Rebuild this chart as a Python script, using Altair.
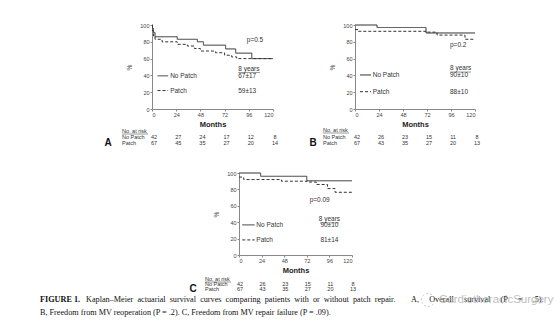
import altair as alt
import pandas as pd

FONT = "Liberation Sans"
SERIF = "Liberation Serif"
INK = "#333333"

MONTH_TICKS = [0, 24, 48, 72, 96, 120]
PCT_TICKS = [0, 20, 40, 60, 80, 100]
GROUPS = ["No Patch", "Patch"]

# ---------------- Panel A : overall survival ----------------
a_nopatch_t = [0, 0.5, 1.5, 3, 25, 45, 51, 73, 83, 99, 120]
a_nopatch_s = [100, 96, 91, 86, 83, 80, 76, 71.5, 66.5, 60, 60]
a_patch_t = [0, 0.5, 1.5, 3, 10, 25, 35, 42, 48, 63, 72, 79, 84, 120]
a_patch_s = [100, 93, 87, 83, 80, 77, 75, 72, 69, 67, 64, 62, 60, 60]
a_risk_nopatch = [42, 27, 24, 17, 12, 8]
a_risk_patch = [67, 45, 35, 27, 20, 14]
a_pvalue = "p=0.5"
a_eight = ["67±17", "59±13"]

# ---------------- Panel B : freedom from reoperation ----------------
b_nopatch_t = [0, 22, 71, 120]
b_nopatch_s = [100, 97, 90.5, 90.5]
b_patch_t = [0, 3, 71, 82, 110, 120]
b_patch_s = [94.5, 92.5, 91.5, 88, 83, 83]
b_risk_nopatch = [42, 26, 23, 15, 11, 8]
b_risk_patch = [67, 43, 35, 27, 20, 13]
b_pvalue = "p=0.2"
b_eight = ["90±10", "88±10"]

# ---------------- Panel C : freedom from repair failure ----------------
c_nopatch_t = [0, 23, 72, 120]
c_nopatch_s = [100, 96, 90.5, 90.5]
c_patch_t = [0, 5, 45, 72, 82, 94, 102, 120]
c_patch_s = [95, 92, 90, 89, 86, 81, 76.5, 76.5]
c_risk_nopatch = [42, 26, 23, 15, 11, 8]
c_risk_patch = [67, 43, 35, 27, 20, 13]
c_pvalue = "p=0.09"
c_eight = ["90±10", "81±14"]

caption_bold = "FIGURE 1."
caption_1a = "Kaplan–Meier actuarial survival curves comparing patients with or without patch repair."
caption_1b = "A, Overall survival (P = .5)."
caption_2 = "B, Freedom from MV reoperation (P = .2). C, Freedom from MV repair failure (P = .09)."
watermark = "CardiothoracicSurgery"


def justify(text, extra):
    # widen word gaps with non-breaking spaces to imitate a justified line
    return text.replace(" ", " " + "\u00a0" * extra)


def panel(np_t, np_s, p_t, p_s, risk_np, risk_p, pval, eight, letter, w, h, lay):
    curves = pd.DataFrame({
        "t": np_t + p_t,
        "s": np_s + p_s,
        "g": [GROUPS[0]] * len(np_t) + [GROUPS[1]] * len(p_t),
    })
    x = alt.X("t:Q", scale=alt.Scale(domain=[0, 120], nice=False, zero=False),
              axis=alt.Axis(values=MONTH_TICKS, title="Months", titleFontSize=7.5,
                            titleFontWeight="bold", titlePadding=3, titleColor="#222"))
    y = alt.Y("s:Q", scale=alt.Scale(domain=[0, 100], nice=False),
              axis=alt.Axis(values=PCT_TICKS, title="%", titleFontSize=6.5,
                            titleFontWeight="normal", titlePadding=7, titleColor="#333"))
    dash = alt.StrokeDash("g:N", scale=alt.Scale(domain=GROUPS, range=[[1, 0], [3, 2]]), legend=None)

    layers = []
    layers.append(alt.Chart(curves).mark_line(interpolate="step-after", strokeWidth=1, color=INK)
                  .encode(x=x, y=y, strokeDash=dash))

    # legend keys drawn inside the plot
    leg = pd.DataFrame({"t": [lay["lx1"]] * 2, "t2": [lay["lx2"]] * 2,
                        "s": [lay["ly_np"], lay["ly_p"]], "g": GROUPS})
    layers.append(alt.Chart(leg).mark_rule(strokeWidth=1, color=INK)
                  .encode(x=x, x2="t2:Q", y=y, strokeDash=dash))
    leg_txt = pd.DataFrame({"t": [lay["ltx"]] * 2, "s": [lay["ly_np"], lay["ly_p"]], "txt": GROUPS})
    layers.append(alt.Chart(leg_txt).mark_text(align="left", baseline="middle", font=FONT,
                                               fontSize=6.5, color=INK)
                  .encode(x=x, y=y, text="txt:N"))

    # p value
    pv = pd.DataFrame({"t": [lay["px"]], "s": [lay["py"]], "txt": [pval]})
    layers.append(alt.Chart(pv).mark_text(align="left", baseline="middle", font=FONT,
                                          fontSize=6.5, color=INK)
                  .encode(x=x, y=y, text="txt:N"))

    # 8-year estimates
    est = pd.DataFrame({"t": [lay["ex"]] * 3,
                        "s": [lay["ey8"], lay["ly_np"], lay["ly_p"]],
                        "txt": ["8 years"] + eight})
    layers.append(alt.Chart(est).mark_text(align=lay["ealign"], baseline="middle", font=FONT,
                                           fontSize=6.5, color=INK)
                  .encode(x=x, y=y, text="txt:N"))
    ul = pd.DataFrame({"t": [lay["ux1"]], "t2": [lay["ux2"]], "s": [lay["ey8"] - 4.5]})
    layers.append(alt.Chart(ul).mark_rule(strokeWidth=0.6, color="#555")
                  .encode(x=x, x2="t2:Q", y=y))

    # number at risk table
    rnp = pd.DataFrame({"t": MONTH_TICKS, "n": risk_np})
    rp = pd.DataFrame({"t": MONTH_TICKS, "n": risk_p})
    for df, off in [(rnp, lay["r1"]), (rp, lay["r2"])]:
        layers.append(alt.Chart(df).mark_text(align="center", baseline="middle", font=FONT,
                                              fontSize=5.5, color=INK, dx=lay["rdx"])
                      .encode(x=x, y=alt.value(h + off), text="n:Q"))
    for txt, off in [("No. at risk", lay["r0"]), ("No Patch", lay["r1"]), ("Patch", lay["r2"])]:
        layers.append(alt.Chart(pd.DataFrame({"txt": [txt]}))
                      .mark_text(align="left", baseline="middle", font=FONT, fontSize=5.5, color=INK)
                      .encode(x=alt.value(lay["labx"]), y=alt.value(h + off), text="txt:N"))
    layers.append(alt.Chart(pd.DataFrame({"txt": ["No. at risk"]}))
                  .mark_rule(strokeWidth=0.6, color="#555")
                  .encode(x=alt.value(lay["labx"]), x2=alt.value(lay["labx"] + 26),
                          y=alt.value(h + lay["r0"] + 3)))
    layers.append(alt.Chart(pd.DataFrame({"txt": [letter]}))
                  .mark_text(align="center", baseline="middle", font=FONT, fontSize=10,
                             fontWeight="bold", color="#111")
                  .encode(x=alt.value(lay["letx"]), y=alt.value(h + lay["r2"]), text="txt:N"))
    return layers


layA = dict(lx1=5.5, lx2=16, ltx=18, ly_np=39.5, ly_p=22, px=94, py=82,
            ex=85.5, ey8=48, ealign="left", ux1=85.5, ux2=107,
            r0=22, r1=28, r2=34, rdx=2, labx=-30, letx=-44)
layB = dict(lx1=5, lx2=16, ltx=17.7, ly_np=40.5, ly_p=20.6, px=95, py=76,
            ex=95, ey8=48.5, ealign="left", ux1=95, ux2=116,
            r0=21, r1=28, r2=34, rdx=2, labx=-32, letx=-42)
layC = dict(lx1=3.5, lx2=16.6, ltx=18.4, ly_np=36.7, ly_p=18.4, px=75, py=67,
            ex=96, ey8=43.7, ealign="center", ux1=86, ux2=106,
            r0=24, r1=29, r2=34, rdx=1, labx=-34, letx=-46)

WA, HA = 121, 84
WB, HB = 120, 84
WC, HC = 113, 82

chartA = alt.layer(*panel(a_nopatch_t, a_nopatch_s, a_patch_t, a_patch_s,
                          a_risk_nopatch, a_risk_patch, a_pvalue, a_eight, "A", WA, HA, layA)
                   ).properties(width=WA, height=HA)
chartB = alt.layer(*panel(b_nopatch_t, b_nopatch_s, b_patch_t, b_patch_s,
                          b_risk_nopatch, b_risk_patch, b_pvalue, b_eight, "B", WB, HB, layB)
                   ).properties(width=WB, height=HB)

CAP = 8.2
c_layers = panel(c_nopatch_t, c_nopatch_s, c_patch_t, c_patch_s,
                 c_risk_nopatch, c_risk_patch, c_pvalue, c_eight, "C", WC, HC, layC)
c_layers.append(alt.Chart(pd.DataFrame({"txt": [caption_bold]}))
                .mark_text(align="left", baseline="middle", font=SERIF, fontSize=CAP,
                           fontWeight="bold", color="#111")
                .encode(x=alt.value(-199), y=alt.value(127), text="txt:N"))
c_layers.append(alt.Chart(pd.DataFrame({"txt": [justify(caption_1a, 1)]}))
                .mark_text(align="left", baseline="middle", font=SERIF, fontSize=CAP, color="#111")
                .encode(x=alt.value(-153), y=alt.value(127), text="txt:N"))
c_layers.append(alt.Chart(pd.DataFrame({"txt": [justify(caption_1b, 4)]}))
                .mark_text(align="left", baseline="middle", font=SERIF, fontSize=CAP, color="#111")
                .encode(x=alt.value(172), y=alt.value(127), text="txt:N"))
c_layers.append(alt.Chart(pd.DataFrame({"txt": [caption_2]}))
                .mark_text(align="left", baseline="middle", font=SERIF, fontSize=CAP, color="#111")
                .encode(x=alt.value(-199), y=alt.value(140), text="txt:N"))
c_layers.append(alt.Chart(pd.DataFrame({"txt": ["logo"]}))
                .mark_point(shape="circle", size=170, filled=False, color="#b8b8b8",
                            strokeWidth=1, strokeDash=[2, 2])
                .encode(x=alt.value(189), y=alt.value(127)))
c_layers.append(alt.Chart(pd.DataFrame({"txt": [watermark]}))
                .mark_text(align="left", baseline="middle", font=FONT, fontSize=11.5,
                           color="#b5b5b5", opacity=0.85)
                .encode(x=alt.value(200), y=alt.value(127), text="txt:N"))
chartC = alt.layer(*c_layers).properties(width=WC, height=HC)

spacer = (alt.Chart(pd.DataFrame({"v": [0]})).mark_point(opacity=0)
          .encode(x=alt.value(0), y=alt.value(0)).properties(width=87, height=10))

top = alt.hconcat(chartA, chartB, spacing=82, bounds="flush")
bottom = alt.hconcat(spacer, chartC, spacing=0, bounds="flush")

chart = (alt.vconcat(top, bottom, spacing=148, bounds="flush")
         .properties(autosize=alt.AutoSizeParams(type="none"),
                     padding={"left": 152, "top": 25, "right": 402, "bottom": 305},
                     background="white")
         .configure_view(stroke=None)
         .configure_axis(labelFont=FONT, labelFontSize=5.5, labelColor="#444",
                         domainColor="#888", tickColor="#888", tickSize=2, labelPadding=1,
                         titleFont=FONT, grid=False, domainWidth=1, tickWidth=1))

chart.save("out.html", embed_options={"renderer": "svg", "actions": False})
